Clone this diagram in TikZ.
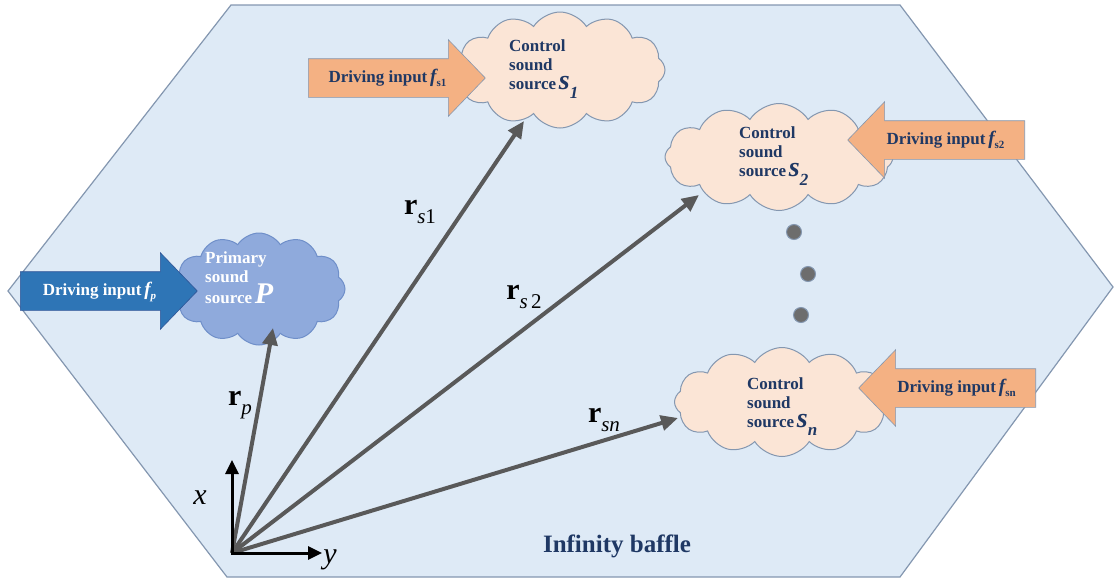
\documentclass[tikz,border=0pt]{standalone}
\usepackage{fontspec}
\setmainfont{Liberation Serif}
\usetikzlibrary{shapes.symbols,shapes.arrows,arrows.meta}

\definecolor{baffle}{HTML}{DEEAF6}
\definecolor{baffleline}{HTML}{8497B0}
\definecolor{navy}{HTML}{1F3864}
\definecolor{peach}{HTML}{FBE5D6}
\definecolor{primfill}{HTML}{8FAADC}
\definecolor{primline}{HTML}{6F8FC9}
\definecolor{drvorange}{HTML}{F4B183}
\definecolor{drvblue}{HTML}{2E75B6}
\definecolor{drvblueline}{HTML}{2F5597}
\definecolor{vecgray}{HTML}{595959}
\definecolor{dotgray}{HTML}{6D6D6D}

\tikzset{
  srccloud/.style={cloud, cloud puffs=12, cloud puff arc=115, draw=baffleline,
    fill=peach, line width=1pt, inner sep=0pt},
  srctext/.style={align=left, anchor=north west, inner sep=0pt, text=navy,
    font=\bfseries\fontsize{17}{19}\selectfont},
  drvarrow/.style={single arrow, single arrow head extend=19pt,
    single arrow tip angle=92, fill=drvorange, draw=baffleline, line width=0.6pt,
    text=navy, font=\bfseries\fontsize{17}{17}\selectfont,
    text height=12pt, text depth=4pt, inner ysep=11pt, inner xsep=2pt,
    minimum height=177pt, anchor=tail},
  vec/.style={draw=vecgray, line width=4pt, -{Triangle[length=17pt,width=15pt]}},
  axis/.style={draw=black, line width=3pt, -{Triangle[length=14pt,width=13pt]}},
  veclabel/.style={inner sep=0pt, font=\fontsize{30}{30}\selectfont},
  seqdot/.style={circle, fill=dotgray, draw=baffleline, line width=1pt,
    minimum size=15pt, inner sep=0pt}
}
% r with italic subscript
\newcommand{\rlab}[1]{\textbf{r}\raisebox{-0.28em}{\fontsize{21}{21}\selectfont\itshape #1}}
% f with small subscript
\newcommand{\flab}[1]{\,{\fontsize{19}{17}\selectfont\itshape f}\raisebox{-0.25em}{\fontsize{11}{11}\selectfont #1}}
% source letter with subscript
\newcommand{\slab}[1]{\,{\fontsize{28}{19}\selectfont\itshape s\raisebox{-0.3em}{\fontsize{17}{17}\selectfont #1}}}

\begin{document}
\begin{tikzpicture}[x=1pt,y=-1pt]
  \useasboundingbox (0,0) rectangle (1114,581);
  % infinity baffle
  \draw[fill=baffle, draw=baffleline, line width=1.2pt]
    (8,291) -- (231,5) -- (900,5) -- (1113,287) -- (900,577) -- (227,577) -- cycle;
  \node[text=navy, font=\bfseries\fontsize{25}{25}\selectfont] (baffletext) at (617,546) {Infinity baffle};

  % sound sources
  \node[srccloud, fill=primfill, draw=primline, minimum width=172pt, minimum height=112pt] (P) at (259,289) {};
  \node[srctext, text=white] (Ptext) at (205,252)
    {Primary\\sound\\source\,{\fontsize{30}{19}\selectfont\itshape P}};
  \node[srccloud, minimum width=210pt, minimum height=116pt] (S1) at (560,70) {};
  \node[srctext] (S1text) at (509,40) {Control\\sound\\source\slab{1}};
  \node[srccloud, minimum width=228pt, minimum height=107pt] (S2) at (779,157) {};
  \node[srctext] (S2text) at (739,127) {Control\\sound\\source\slab{2}};
  \node[srccloud, minimum width=215pt, minimum height=109pt] (Sn) at (782,402) {};
  \node[srctext] (Sntext) at (747,377) {Control\\sound\\source\slab{n}};

  % driving inputs
  \node[drvarrow, fill=drvblue, draw=drvblueline, text=white] (fp) at (20,291) {Driving input\flab{\itshape p}};
  \node[drvarrow] (fs1) at (308,78) {Driving input\flab{s1}};
  \node[drvarrow, shape border rotate=180] (fs2) at (1025,140) {Driving input\flab{s2}};
  \node[drvarrow, shape border rotate=180] (fsn) at (1036,388) {Driving input\flab{sn}};

  % dots between sources
  \node[seqdot] (d1) at (794,232) {};
  \node[seqdot] (d2) at (808,274) {};
  \node[seqdot] (d3) at (801,315) {};

  % position vectors
  \coordinate (o) at (232,553);
  \coordinate (tp) at (273,328);
  \coordinate (t1) at (524,121);
  \coordinate (t2) at (699,195);
  \coordinate (tn) at (678,418);
  \draw[vec] (o) -- (tp);
  \draw[vec] (o) -- (t1);
  \draw[vec] (o) -- (t2);
  \draw[vec] (o) -- (tn);
  \node[veclabel] (rp) at (240,405) {\rlab{p}};
  \node[veclabel] (rs1) at (420,212) {\rlab{s\upshape 1}};
  \node[veclabel] (rs2) at (524,297) {\rlab{s\,\upshape 2}};
  \node[veclabel] (rsn) at (604,420) {\rlab{sn}};

  % axes
  \coordinate (ax) at (232,460);
  \coordinate (ay) at (322,553);
  \draw[axis] ([yshift=-1.5pt]o) -- (ax);
  \draw[axis] ([xshift=-1.5pt]o) -- (ay);
  \node[veclabel, font=\itshape\fontsize{30}{30}\selectfont] (xlab) at (200,498) {x};
  \node[veclabel, font=\itshape\fontsize{30}{30}\selectfont] (ylab) at (330,560) {y};
\end{tikzpicture}
\end{document}
